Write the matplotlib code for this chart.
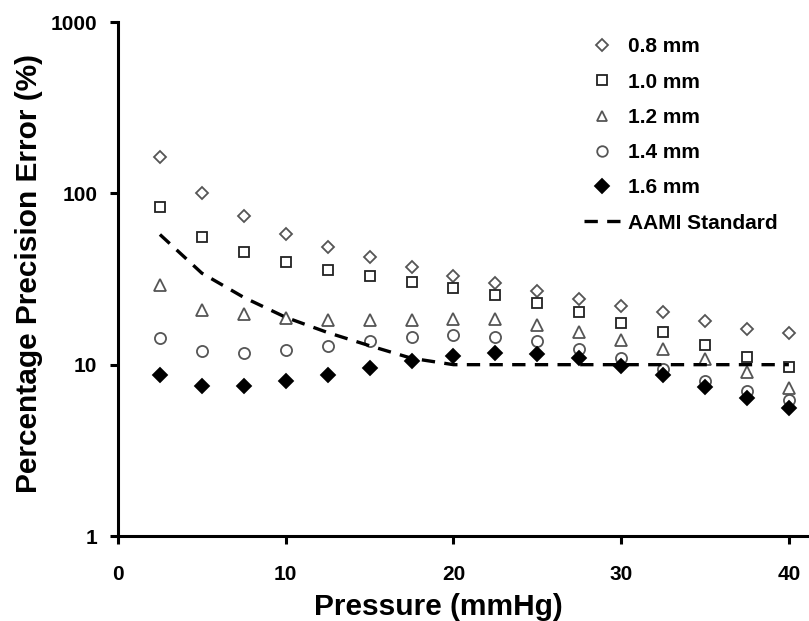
import matplotlib
matplotlib.use('Agg')
import matplotlib.pyplot as plt

plt.rcParams['font.family'] = ['Liberation Sans', 'DejaVu Sans']
plt.rcParams['font.weight'] = 'bold'

# pressure steps (mmHg)
pressure = [2.5, 5, 7.5, 10, 12.5, 15, 17.5, 20, 22.5, 25, 27.5, 30, 32.5, 35, 37.5, 40]

# percentage precision error for each sensor diameter
err_08 = [162, 100, 73.5, 58.2, 48.9, 42.4, 37.0, 33.0, 30.1, 27.0, 24.3, 22.1, 20.2, 17.9, 16.1, 15.3]
err_10 = [83.6, 55.9, 45.5, 39.6, 35.9, 33.0, 30.4, 28.0, 25.4, 22.8, 20.3, 17.6, 15.5, 13.0, 11.1, 9.7]
err_12 = [29.1, 20.9, 19.8, 18.6, 18.2, 18.2, 18.2, 18.4, 18.4, 17.0, 15.5, 13.9, 12.3, 10.8, 9.1, 7.3]
err_14 = [14.3, 12.0, 11.7, 12.1, 12.9, 13.8, 14.5, 14.9, 14.6, 13.7, 12.4, 10.9, 9.4, 8.0, 7.0, 6.2]
err_16 = [8.7, 7.5, 7.5, 8.0, 8.7, 9.6, 10.5, 11.2, 11.7, 11.6, 11.0, 9.8, 8.7, 7.4, 6.4, 5.6]
aami = [57.5, 34.2, 24.7, 18.9, 15.4, 12.9, 10.9, 10, 10, 10, 10, 10, 10, 10, 10, 10]

series = [
    ('0.8 mm', err_08, 'D', 'white', '#555555', 6.3),
    ('1.0 mm', err_10, 's', 'white', '#222222', 7.8),
    ('1.2 mm', err_12, '^', 'white', '#555555', 8.3),
    ('1.4 mm', err_14, 'o', 'white', '#555555', 8.0),
    ('1.6 mm', err_16, 'D', 'black', 'black', 7.0),
]

fig = plt.figure(figsize=(8.09, 6.21), dpi=100)
ax = fig.add_axes([118 / 809, 1 - 536 / 621, 1 - 118 / 809, (536 - 22) / 621])

for label, vals, mk, fc, ec, ms in series:
    ax.plot(pressure, vals, linestyle='none', marker=mk, markersize=ms,
            markerfacecolor=fc, markeredgecolor=ec, markeredgewidth=1.3, label=label)

ax.plot(pressure, aami, color='black', linewidth=2.4, dashes=(4, 2.8), label='AAMI Standard')

ax.set_yscale('log')
ax.set_ylim(1, 1000)
ax.set_xlim(0, 41.2)
ax.set_xticks([0, 10, 20, 30, 40])
ax.set_yticks([1, 10, 100, 1000])
ax.set_yticklabels(['1', '10', '100', '1000'])
ax.minorticks_off()

for side in ['top', 'right']:
    ax.spines[side].set_visible(False)
for side in ['left', 'bottom']:
    ax.spines[side].set_linewidth(2.2)
ax.tick_params(axis='both', direction='out', length=6, width=2.2, labelsize=15)
ax.tick_params(axis='x', pad=15)
ax.tick_params(axis='y', pad=9)

ax.set_xlabel('Pressure (mmHg)', fontsize=21.5, fontweight='bold')
ax.set_ylabel('Percentage Precision Error (%)', fontsize=21.5, fontweight='bold')
ax.xaxis.set_label_coords(0.463, -0.11)
ax.yaxis.set_label_coords(-0.108, 0.51)

ax.legend(loc='upper left', bbox_to_anchor=(574 / 809, 1 - 27 / 621), bbox_transform=fig.transFigure,
          frameon=False, fontsize=15, labelspacing=0.78, handlelength=1.7, handletextpad=0.4,
          borderpad=0, markerscale=0.95)

fig.savefig('out.png', dpi=100)
